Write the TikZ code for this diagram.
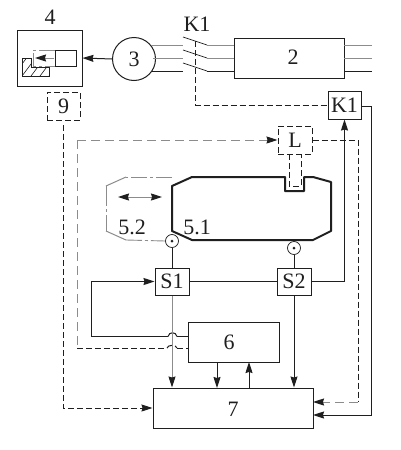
\documentclass[tikz,border=0pt]{standalone}
\usepackage{fontspec}
\setmainfont{Liberation Serif}
\usetikzlibrary{arrows.meta}
\definecolor{ink}{gray}{0.12}
\definecolor{soft}{gray}{0.55}
\tikzset{
  x=1pt,y=-1pt,
  line/.style={draw=ink,line width=1pt},
  softline/.style={draw=soft,line width=1pt},
  dashline/.style={draw=ink,line width=1pt,dash pattern=on 6pt off 3pt},
  softdash/.style={draw=soft,line width=1pt,dash pattern=on 9pt off 5pt},
  dashdot/.style={draw=soft,line width=0.9pt,dash pattern=on 16pt off 3pt on 3pt off 3pt},
  head/.style={-{Stealth[length=11pt,width=7pt,inset=1pt,color=ink]}},
  heads/.style={{Stealth[length=11pt,width=7pt,inset=1pt,color=ink]}-{Stealth[length=11pt,width=7pt,inset=1pt,color=ink]}},
  box/.style={line,rectangle,inner sep=0pt,text=ink,font=\fontsize{22}{22}\selectfont},
  dbox/.style={dashline,rectangle,inner sep=0pt,text=ink,font=\fontsize{22}{22}\selectfont},
  lbl/.style={inner sep=0pt,text=ink,font=\fontsize{22}{22}\selectfont},
  sensor/.style={circle,minimum size=13pt,inner sep=0pt,draw=ink,line width=0.7pt},
  work/.style={draw=ink,line width=2pt,line join=round},
}
\begin{document}
\begin{tikzpicture}
\useasboundingbox[fill=white] (0,0) rectangle (400,450);
% boxes
\node[box,minimum width=65pt,minimum height=56pt] (b4) at (49.5,58) {};
\node[lbl] (l4) at (50,17) {4};
\node[dbox,minimum width=33pt,minimum height=28pt] (b9) at (63.5,106) {9};
\node[box,circle,minimum size=43pt] (b3) at (134,59) {3};
\node[box,minimum width=110pt,minimum height=40pt] (b2) at (289,58) {};
\node[lbl] (l2) at (293,57) {2};
\node[lbl] (lk1) at (197,24) {K1};
\node[box,minimum width=33pt,minimum height=28pt] (k1) at (344.5,105) {K1};
\node[dbox,minimum width=34pt,minimum height=28pt] (bl) at (295,140) {L};
\node[box,minimum width=34pt,minimum height=27pt] (s1) at (172,281.5) {S1};
\node[box,minimum width=34pt,minimum height=27pt] (s2) at (294,281.5) {S2};
\node[box,minimum width=91pt,minimum height=40pt] (b6) at (233.5,342) {};
\node[lbl] (l6) at (229,342) {6};
\node[box,minimum width=160pt,minimum height=40pt] (b7) at (233,408) {};
\node[lbl] (l7) at (233,409) {7};
\node[sensor] (p1) at (172,241) {};
\node[sensor] (p2) at (294,248) {};
\fill[ink] (p1.center) circle (1.5pt) (p2.center) circle (1.5pt);
\node[lbl] (l52) at (132,227) {5.2};
\node[lbl] (l51) at (197,227) {5.1};
% tool in box 4
\draw[line] (55,50) rectangle (76,66);
\begin{scope}
\clip (22,58) -- (31,58) -- (31,67) -- (49,67) -- (49,76) -- (22,76) -- cycle;
\foreach \i in {0,9,...,63} \draw[draw=ink,line width=0.6pt] (10+\i,80) -- (28+\i,56);
\end{scope}
\draw[line] (22,58) -- (31,58) -- (31,67) -- (49,67) -- (49,76) -- (22,76) -- cycle;
\draw[dashdot] (55,50) -- (33,50) -- (33,66) -- (55,66);
\coordinate (ta) at (54,58); \coordinate (tb) at (35,58);
\draw[softline,head] (ta) -- (tb);
% motor connection
\draw[line,head] (b3.west) -- (b4.east);
\foreach \y/\st/\xa in {45/softline/151,58/softline/153,71/line/151} {
  \draw[\st] (\xa,\y) -- (183,\y);
  \draw[\st] (207,\y) -- (234,\y);
  \draw[\st] (344,\y) -- (372,\y);
  \draw[draw=ink,line width=0.7pt] (183,\y-8) -- (207,\y);
}
\coordinate (kt) at (195.5,41);
\draw[dashline] (kt) |- (k1.west);
% K1 feedback
\coordinate (kr) at (371.5,106);
\draw[line,head] (k1.east |- kr) -- (kr) |- (313,415);
\draw[line,head] (s2.east) -| (k1.south);
% L connections
\coordinate (lc) at (77,140);
\draw[softdash] (lc) -- (77,348);
\draw[softdash,head] (lc) -- (bl.west);
\draw[dashline] (77,348) -- (167,348);
\draw[dashline] (167,348) .. controls (168,344.5) and (176,344.5) .. (177,348);
\draw[dashline] (177,348) -- (b6.west |- 0,348);
\draw[dashline] (bl.east) -- (358,140) -- (358,402);
\draw[softdash,head] (358,402) -- (313,402);
% probe
\draw[dashline] (289,154) -- (289,186) -- (301,186) -- (301,154);
% workpiece
\draw[work] (172,186) -- (192,177) -- (285,177) -- (285,191) -- (304,191) -- (304,177) -- (313,177) -- (331,182) -- (331,231) -- (313,240) -- (192,240) -- (172,231) -- cycle;
% 5.2 ghost
\draw[dashdot] (172,177) -- (126,177);
\draw[softline] (126,177) -- (106,186);
\draw[softline,dash pattern=on 20pt off 3pt on 3pt off 3pt on 20pt] (106,186) -- (106,231);
\draw[softline] (106,231) -- (126,240);
\draw[dashdot] (126,240) -- (p1.west);
\coordinate (da) at (118,197); \coordinate (db) at (162,197);
\draw[softline,heads] (da) -- (db);
% sensors
\draw[line] (p1.south) -- (s1.north);
\draw[line] (p2.south) -- (s2.north);
\draw[line] (s1.east) -- (s2.west);
% S1 loop
\coordinate (lp) at (91,336.5);
\draw[line,head] (168,336.5) -- (lp) |- (s1.west);
\draw[line] (168,336.5) .. controls (169,331.5) and (176,331.5) .. (177,336.5);
\draw[line] (177,336.5) -- (b6.west |- 0,336.5);
% down to 7
\draw[softline,head] (s1.south) -- (s1.south |- b7.north);
\draw[line,head] (s2.south) -- (s2.south |- b7.north);
\draw[line,head] (217,362) -- (217,388);
\draw[line,head] (249,388) -- (249,362);
% 9
\coordinate (n9) at (63,125);
\draw[dashline,head] (n9) |- (b7.west);
\end{tikzpicture}
\end{document}
